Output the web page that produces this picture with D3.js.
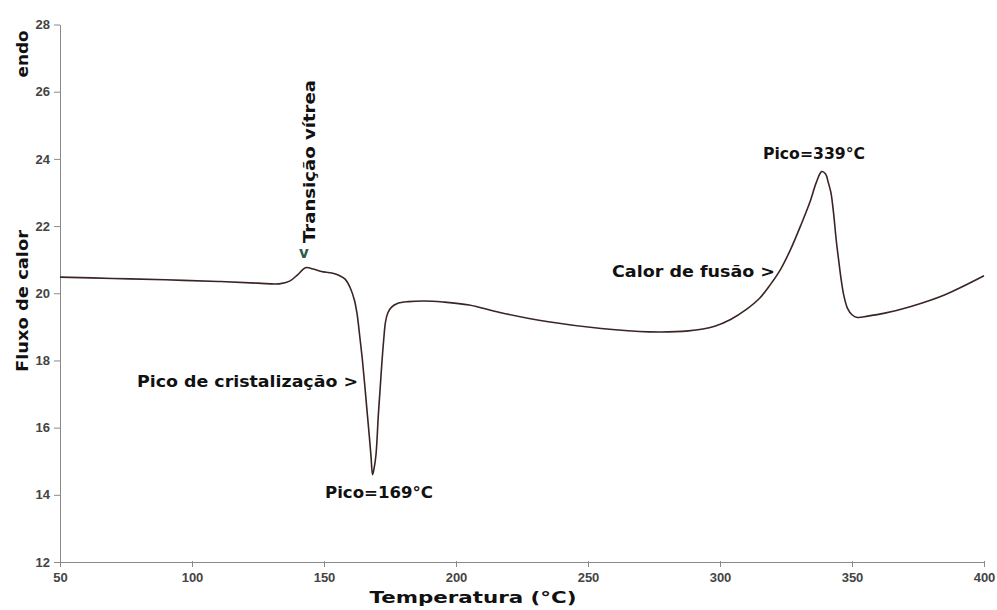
<!DOCTYPE html>
<html>
<head>
<meta charset="utf-8">
<script src="https://cdn.jsdelivr.net/npm/d3@7"></script>
<style>
  body { margin: 0; background: #fff; }
  .tick text { font-family: "Liberation Sans", Arial, sans-serif; font-size: 13px; font-weight: bold; fill: #444; }
  .tick line, .domain { stroke: #8a8a8a; }
  .lbl { font-family: "DejaVu Sans", Verdana, sans-serif; font-weight: bold; fill: #111; }
</style>
</head>
<body>
<script>
// temperatura (°C) e fluxo de calor
const temps = [50, 70, 90, 110, 125, 133, 137, 140, 143, 146, 149, 153, 156, 158, 160,
  161.5, 162.5, 163.5, 164.5, 165.4, 166.3, 167.1, 167.8, 168.4, 169, 169.7, 170.6, 171.3,
  171.9, 172.6, 173.3, 174.2, 175.5, 178, 182, 188, 195, 205, 217, 235, 255, 273, 288, 298,
  304, 310, 315, 319, 323, 327, 331, 334, 336.5, 338.5, 340, 341, 342, 343, 344, 345, 346,
  347, 348.3, 350, 352, 356, 362, 372, 385, 400];
const fluxo = [20.48, 20.44, 20.40, 20.35, 20.30, 20.28, 20.36, 20.55, 20.76, 20.72, 20.65,
  20.60, 20.52, 20.42, 20.15, 19.8, 19.4, 18.75, 18.05, 17.3, 16.5, 15.8, 15.15, 14.6, 14.8,
  15.2, 16.4, 17.2, 17.9, 18.6, 19.15, 19.42, 19.58, 19.7, 19.75, 19.77, 19.74, 19.65,
  19.42, 19.15, 18.95, 18.85, 18.88, 19.02, 19.22, 19.52, 19.85, 20.25, 20.72, 21.35, 22.1,
  22.7, 23.3, 23.62, 23.55, 23.3, 23.0, 22.4, 21.6, 20.95, 20.35, 19.9, 19.55, 19.36, 19.28,
  19.32, 19.4, 19.6, 19.95, 20.52];
const xTicks = [50, 100, 150, 200, 250, 300, 350, 400];
const yTicks = [12, 14, 16, 18, 20, 22, 24, 26, 28];

const w = 997, h = 610;
const margin = ({top: 24.5, right: 13, bottom: 48, left: 60});

const data = temps.map((t, i) => ({t: t, v: fluxo[i]}));

const svg = d3.select("body")
  .append("svg")
  .attr("width", w)
  .attr("height", h);

let x = d3.scaleLinear()
  .domain([50, 400])
  .range([margin.left, w - margin.right]);

let y = d3.scaleLinear()
  .domain([12, 28])
  .range([h - margin.bottom, margin.top]);

let xAxis = d3.axisBottom(x)
  .tickValues(xTicks)
  .tickSize(5)
  .tickSizeOuter(0)
  .tickPadding(6);

let yAxis = d3.axisLeft(y)
  .tickValues(yTicks)
  .tickSize(6)
  .tickSizeOuter(0)
  .tickPadding(4);

svg.append("g")
  .attr("transform", `translate(0,${h - margin.bottom})`)
  .call(xAxis)
  .call(g => g.selectAll(".tick line").attr("y1", -1));

svg.append("g")
  .attr("transform", `translate(${margin.left},0)`)
  .call(yAxis);

let line = d3.line()
  .x(d => x(d.t))
  .y(d => y(d.v))
  .curve(d3.curveCatmullRom.alpha(0.5));

svg.append("path")
  .datum(data)
  .attr("fill", "none")
  .attr("stroke", "#3b2424")
  .attr("stroke-width", 1.6)
  .attr("d", line);

// rótulo com largura ajustada à do original
function label(txt, tx, ty, len, opts = {}) {
  let t = svg.append("text")
    .attr("class", "lbl")
    .attr("transform", `translate(${tx},${ty})` + (opts.rot ? " rotate(-90)" : ""))
    .attr("text-anchor", opts.anchor || "start")
    .attr("textLength", len)
    .attr("lengthAdjust", "spacingAndGlyphs")
    .style("font-size", (opts.size || 16) + "px")
    .text(txt);
  if (opts.fill) t.style("fill", opts.fill);
  return t;
}

// títulos dos eixos
label("Temperatura (°C)", 473, 603, 207, {anchor: "middle"});
label("Fluxo de calor", 28, 301, 142, {anchor: "middle", rot: true});
label("endo", 28, 54, 47, {anchor: "middle", rot: true});

// anotações
label("Transição vítrea", 315, 243, 163, {rot: true});
svg.append("text")
  .attr("class", "lbl")
  .attr("x", 304)
  .attr("y", 258)
  .attr("text-anchor", "middle")
  .style("font-size", "15px")
  .style("fill", "#2d5a45")
  .text("v");

label("Pico=339°C", 814, 159, 102, {anchor: "middle"});
label("Calor de fusão >", 775, 277, 163, {anchor: "end"});
label("Pico de cristalização >", 137, 387, 221);
label("Pico=169°C", 325, 498, 108);
</script>
</body>
</html>
